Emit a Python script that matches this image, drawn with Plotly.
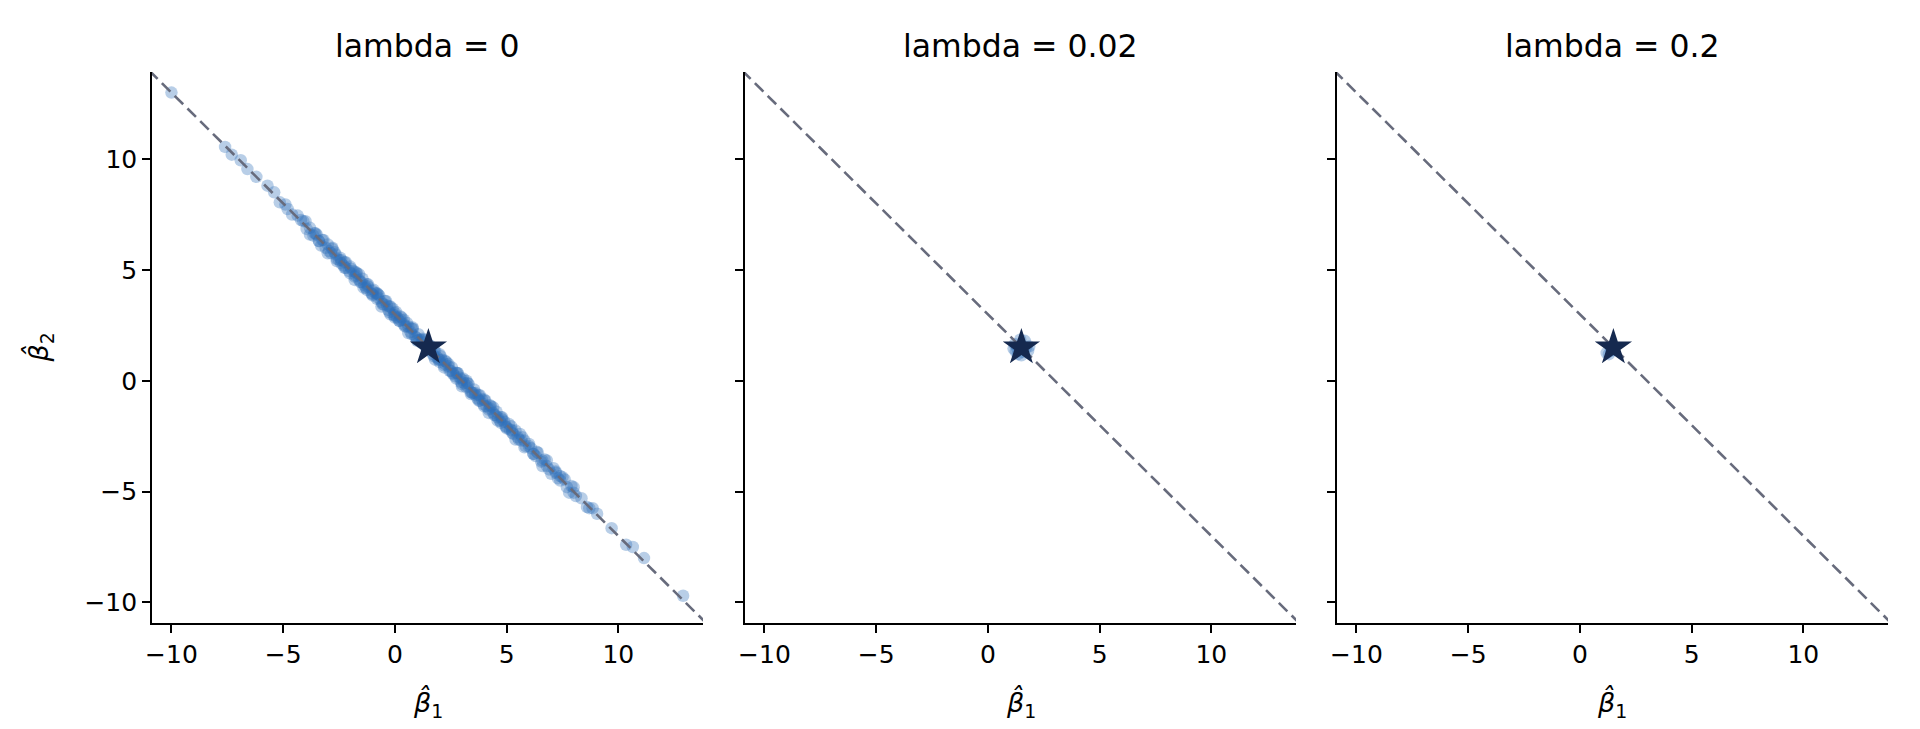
import plotly.graph_objects as go

# ---------------- data ----------------
panel_titles = ["lambda = 0", "lambda = 0.02", "lambda = 0.2"]
tick_vals = [-10, -5, 0, 5, 10]

true_beta1 = [1.5]
true_beta2 = [1.5]

# dashed reference line endpoints (b1 + b2 = 3)
line_b1 = [-11.0, 14.0]
line_b2 = [14.0, -11.0]

# lambda = 0 estimates
b1_lam0 = [-10.0, -7.6, -7.3, -6.9, -6.6, -6.2, -5.7, -5.4, -5.15, -4.9, -4.6, -4.35,
           -4.1, -3.95, -3.8, -3.65, -3.5, -3.4, -3.25, -3.1, -3.0, -2.85, -2.7, -2.6,
           -2.45, -2.3, -2.2, -2.05, -1.95, -1.8, -1.7, -1.55, -1.45, -1.3, -1.2, -1.05,
           -0.95, -0.8, -0.7, -0.55, -0.45, -0.3, -0.2, -0.05, 0.05, 0.2, 0.3, 0.45,
           0.55, 0.7, 0.8, 0.95, 1.05, 1.2, 1.3, 1.45, 1.55, 1.7, 1.8, 1.95,
           2.05, 2.2, 2.3, 2.45, 2.55, 2.7, 2.8, 2.95, 3.05, 3.2, 3.3, 3.45,
           3.55, 3.7, 3.8, 3.95, 4.05, 4.2, 4.3, 4.45, 4.55, 4.7, 4.8, 4.95,
           5.1, 5.25, 5.4, 5.55, 5.7, 5.85, 6.0, 6.2, 6.35, 6.55, 6.7, 6.9,
           7.1, 7.3, 7.5, 7.7, 7.9, 8.1, 8.35, 8.6, 8.85, 9.05, 9.7, 10.35,
           10.65, 11.15, 12.9,
           -3.55, -2.95, -2.4, -1.85, -1.35, -0.85, -0.35, 0.1, 0.6, 1.1, 1.6, 2.1,
           2.6, 3.1, 3.6, 4.1, 4.6, 5.15, 5.65, 6.1, 6.6, 7.2, 0.4, -0.6,
           1.9, 2.9, 3.9, -1.6, 4.9, -2.65,
           -3.3, -2.8, -2.25, -1.75, -1.25, -0.75, -0.25, 0.25, 0.75, 1.25, 1.75, 2.25,
           2.75, 3.25, 3.75, 4.25, 4.75, 5.3, 5.8, 6.3, -0.1, 0.9, 2.4, 3.4,
           4.4, 1.4, 2.0, -1.0, 0.0, 3.0, 6.8, 7.4, 8.0, -4.2, -4.8, 8.7,
           -4.0, -3.8, -3.6, -3.4, -3.2, -3.0, -2.8, -2.6, -2.4, -2.2, -2.0, -1.8,
           -1.6, -1.4, -1.2, -1.0, -0.8, -0.6, -0.4, -0.2, 0.0, 0.2, 0.4, 0.6,
           0.8, 1.0, 1.2, 1.4, 1.6, 1.8, 2.0, 2.2, 2.4, 2.6, 2.8, 3.0,
           3.2, 3.4, 3.6, 3.8, 4.0, 4.2, 4.4, 4.6, 4.8, 5.0, 5.2, 5.4,
           5.6, 5.8, 6.0, 6.2, 6.4, 6.6, 6.8, 7.0, 7.2, 7.4, 7.6, 7.8, 8.0,
           -2.5, -2.25, -2.0, -1.75, -1.5, -1.25, -1.0, -0.75, -0.5, -0.25, 0.0, 0.25,
           0.5, 0.75, 1.0, 1.25, 1.5, 1.75, 2.0, 2.25, 2.5, 2.75, 3.0, 3.25,
           3.5, 3.75, 4.0, 4.25, 4.5, 4.75, 5.0, 5.25, 5.5]
b2_lam0 = [13.0, 10.55, 10.2, 9.95, 9.55, 9.2, 8.8, 8.5, 8.05, 7.95, 7.5, 7.45,
           7.2, 6.85, 6.9, 6.55, 6.6, 6.3, 6.35, 6.0, 6.15, 5.75, 5.8, 5.5,
           5.55, 5.2, 5.35, 4.95, 5.05, 4.7, 4.85, 4.45, 4.6, 4.2, 4.35, 3.95,
           4.1, 3.7, 3.85, 3.45, 3.6, 3.2, 3.35, 2.95, 3.1, 2.7, 2.85, 2.45,
           2.6, 2.2, 2.35, 1.95, 2.1, 1.7, 1.85, 1.45, 1.6, 1.2, 1.35, 0.95,
           1.1, 0.7, 0.85, 0.45, 0.6, 0.2, 0.35, -0.05, 0.1, -0.3, -0.15, -0.55,
           -0.4, -0.8, -0.65, -1.05, -0.9, -1.3, -1.15, -1.55, -1.4, -1.8, -1.65, -2.05,
           -1.95, -2.35, -2.25, -2.65, -2.55, -2.95, -2.85, -3.3, -3.2, -3.65, -3.55, -4.0,
           -3.95, -4.4, -4.35, -4.8, -4.75, -5.2, -5.3, -5.7, -5.75, -6.0, -6.65, -7.4,
           -7.5, -8.0, -9.7,
           6.65, 5.85, 5.3, 4.95, 4.3, 3.95, 3.4, 2.85, 2.45, 1.85, 1.35, 0.95,
           0.35, -0.1, -0.65, -1.15, -1.65, -2.2, -2.7, -3.05, -3.6, -4.1, 2.55, 3.55,
           1.05, 0.15, -0.85, 4.55, -1.85, 5.7,
           6.1, 5.95, 5.1, 4.9, 4.1, 3.9, 3.1, 2.9, 2.1, 1.9, 1.1, 0.9,
           0.1, -0.1, -0.9, -1.1, -1.9, -2.4, -2.7, -3.4, 3.25, 2.0, 0.75, -0.5,
           -1.45, 1.55, 0.95, 4.05, 2.95, 0.05, -3.85, -4.3, -5.05, 7.25, 7.75, -5.75,
           7.2, 6.6, 6.65, 6.3, 6.35, 5.75, 6.0, 5.4, 5.45, 5.1, 5.15, 4.55,
           4.8, 4.2, 4.25, 3.9, 3.95, 3.35, 3.6, 3.0, 3.05, 2.7, 2.75, 2.15,
           2.4, 1.8, 1.85, 1.5, 1.55, 0.95, 1.2, 0.6, 0.65, 0.3, 0.35, -0.25,
           0.0, -0.6, -0.55, -0.9, -0.85, -1.45, -1.2, -1.8, -1.75, -2.1, -2.05, -2.65,
           -2.4, -3.0, -2.95, -3.3, -3.25, -3.85, -3.6, -4.2, -4.15, -4.5, -4.45, -5.05, -4.8,
           5.45, 5.35, 4.85, 4.75, 4.45, 4.35, 3.85, 3.75, 3.45, 3.35, 2.85, 2.75,
           2.45, 2.35, 1.85, 1.75, 1.45, 1.35, 0.85, 0.75, 0.45, 0.35, -0.15, -0.25,
           -0.55, -0.65, -1.15, -1.25, -1.55, -1.65, -2.15, -2.25, -2.55]

# lambda = 0.02 estimates
b1_lam002 = [1.2, 1.8, 1.35, 1.65, 1.15, 1.85, 1.5, 1.45, 1.3, 1.7, 1.55, 1.25]
b2_lam002 = [1.65, 1.35, 1.2, 1.8, 1.45, 1.55, 1.15, 1.85, 1.5, 1.5, 1.3, 1.3]

# lambda = 0.2 estimates
b1_lam02 = [1.2, 1.3, 1.4, 1.45, 1.5]
b2_lam02 = [1.25, 1.2, 1.35, 1.4, 1.45]

estimates = [(b1_lam0, b2_lam0), (b1_lam002, b2_lam002), (b1_lam02, b2_lam02)]

# ---------------- figure ----------------
OFF = 8  # page body margin
W, H = 1920 - OFF, 729 - OFF


def px_x(p):
    return (p - OFF) / W


def px_y(p):
    return 1 - (p - OFF) / H


x_domains = [(px_x(152), px_x(703)), (px_x(745), px_x(1296)), (px_x(1337), px_x(1888))]
y_domain = (px_y(623), px_y(72))

FONT = "DejaVu Sans"
point_color = "rgba(48,112,184,0.34)"
star_color = "#15294f"
line_color = "#676b7c"

fig = go.Figure()
for i, (bx, by) in enumerate(estimates):
    xa = "x" if i == 0 else f"x{i+1}"
    ya = "y" if i == 0 else f"y{i+1}"
    fig.add_trace(go.Scatter(x=bx, y=by, mode="markers", xaxis=xa, yaxis=ya,
                             marker=dict(size=12.5, color=point_color, line=dict(width=0)),
                             showlegend=False))
    fig.add_trace(go.Scatter(x=line_b1, y=line_b2, mode="lines", xaxis=xa, yaxis=ya,
                             line=dict(color=line_color, width=2.6, dash="12px,6px"),
                             showlegend=False, hoverinfo="skip"))
    fig.add_trace(go.Scatter(x=true_beta1, y=true_beta2, mode="markers", xaxis=xa, yaxis=ya,
                             marker=dict(symbol="star", size=28, color=star_color,
                                         line=dict(width=0)),
                             showlegend=False))

axis_common = dict(showgrid=False, zeroline=False, showline=True, linecolor="black",
                   linewidth=1.6, ticks="outside", ticklen=8, tickwidth=1.5,
                   tickcolor="black", tickvals=tick_vals, automargin=False,
                   tickfont=dict(family=FONT, size=25, color="black"))

layout = dict(width=W, height=H, margin=dict(l=0, r=0, t=0, b=0),
              plot_bgcolor="white", paper_bgcolor="white",
              font=dict(family=FONT, color="black"))
for i in range(3):
    xk = "xaxis" if i == 0 else f"xaxis{i+1}"
    yk = "yaxis" if i == 0 else f"yaxis{i+1}"
    layout[xk] = dict(axis_common, domain=list(x_domains[i]), range=[-10.87, 13.79],
                      anchor="y" if i == 0 else f"y{i+1}")
    layout[yk] = dict(axis_common, domain=list(y_domain), range=[-10.93, 13.93],
                      anchor="x" if i == 0 else f"x{i+1}", showticklabels=(i == 0))

annotations = []
for i in range(3):
    cx = (x_domains[i][0] + x_domains[i][1]) / 2
    annotations.append(dict(text=panel_titles[i], x=cx, y=px_y(46), xref="paper", yref="paper",
                            showarrow=False, xanchor="center", yanchor="middle",
                            font=dict(family=FONT, size=31.5, color="black")))
    annotations.append(dict(text="<i>β̂</i><sub>1</sub>", x=cx, y=px_y(703), xref="paper",
                            yref="paper", showarrow=False, xanchor="center", yanchor="middle",
                            font=dict(family=FONT, size=27, color="black")))
annotations.append(dict(text="<i>β̂</i><sub>2</sub>", x=px_x(40), y=(y_domain[0] + y_domain[1]) / 2,
                        xref="paper", yref="paper", showarrow=False, textangle=-90,
                        xanchor="center", yanchor="middle",
                        font=dict(family=FONT, size=27, color="black")))
layout["annotations"] = annotations

fig.update_layout(**layout)
fig.write_html("out.html")
